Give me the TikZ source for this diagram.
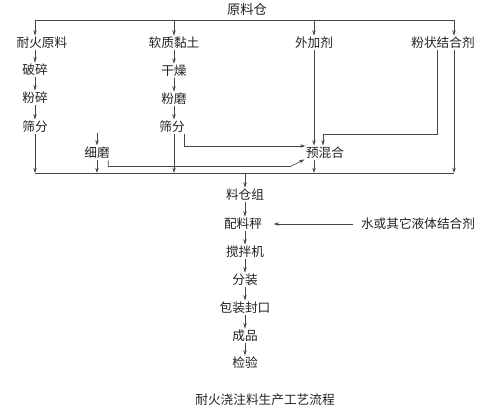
\documentclass[tikz,border=0pt]{standalone}
\usepackage{fontspec}
\setmainfont{Noto Sans CJK SC}
\usepackage{xcolor}
\usepackage{tikz}
\usetikzlibrary{arrows.meta,positioning,calc}
\definecolor{inkgray}{RGB}{34,34,34}
\definecolor{linegray}{RGB}{70,70,70}

\begin{document}
\begin{tikzpicture}[x=0.75pt, y=-0.75pt,
    stage/.style={inner sep=1pt, text=inkgray, font=\fontsize{9.5}{11}\selectfont},
    link/.style={linegray, line width=0.5pt},
    arrow/.style={-{Stealth[length=4pt,width=2.6pt]}, linegray, line width=0.5pt}]

    \useasboundingbox (0,0) rectangle (490,416);

    \node[stage, font=\fontsize{10}{12}\selectfont] (store) at (247,9) {原料仓};
    \coordinate (feedL) at (35,20);
    \coordinate (feedR) at (454,20);

    % raw material lines
    \node[stage] (refr) at (42,43) {耐火原料};
    \node[stage] (crush) at (35,70) {破碎};
    \node[stage] (pulv) at (35,98) {粉碎};
    \node[stage] (sieveA) at (35,127) {筛分};
    \node[stage] (clay) at (174,43) {软质黏土};
    \node[stage] (dry) at (174,71) {干燥};
    \node[stage] (grind) at (174,99) {粉磨};
    \node[stage] (sieveB) at (172,127) {筛分};
    \node[stage] (fine) at (97,153) {细磨};
    \node[stage] (additive) at (314,43) {外加剂};
    \node[stage] (binder) at (443,43) {粉状结合剂};
    \node[stage] (premix) at (325,153) {预混合};

    % main line
    \node[stage] (silo) at (245,195) {料仓组};
    \node[stage] (scale) at (243,224) {配料秤};
    \node[stage] (mixer) at (245,252) {搅拌机};
    \node[stage] (split) at (245,280) {分装};
    \node[stage] (seal) at (245,308) {包装封口};
    \node[stage] (product) at (245,336) {成品};
    \node[stage] (inspect) at (245,363) {检验};
    \node[stage] (liquid) at (418,224) {水或其它液体结合剂};
    \node[stage] (caption) at (265,400) {耐火浇注料生产工艺流程};

    \coordinate (collL) at (35,173);
    \coordinate (collR) at (454,173);
    \coordinate (fineIn) at (97,133);

    \draw[link] (feedL) -- (feedR);
    \draw[arrow] (feedL) -- (feedL |- refr.north);
    \draw[arrow] (feedL -| clay) -- (clay.north);
    \draw[arrow] (feedL -| additive) -- (additive.north);
    \draw[arrow] (feedR) -- (feedR |- binder.north);

    \draw[arrow] (refr.south -| crush) -- (crush);
    \draw[arrow] (crush) -- (pulv);
    \draw[arrow] (pulv) -- (sieveA);
    \draw[arrow] (clay) -- (dry);
    \draw[arrow] (dry) -- (grind);
    \draw[arrow] (grind.south -| clay) -- (sieveB.north -| clay);
    \draw[arrow] (fineIn) -- (fine);

    \draw[arrow] (additive) -- (additive |- premix.north);
    \draw[arrow] ($(binder.south)+(-6,0)$) |- ($(premix.north)+(-2,-11)$) -- ($(premix.north)+(-2,0)$);
    \draw[arrow] ($(sieveB.south east)+(-2,0)$) |- ($(premix.west)+(1,-7)$);
    \draw[arrow] ($(fine.south east)+(-3,0)$) |- ($(premix.south west)+(-14,6)$) -- ($(premix.south west)+(0,-1)$);

    % collecting line
    \draw[link] (collL) -- (collR);
    \draw[arrow] (sieveA) -- (collL);
    \draw[arrow] (fine) -- (fine |- collL);
    \draw[arrow] (sieveB.south -| clay) -- (clay |- collL);
    \draw[arrow] (premix.south -| additive) -- (additive |- collL);
    \draw[arrow] (binder.south -| collR) -- (collR);
    \draw[arrow] (collL -| silo) -- (silo);

    \draw[arrow] (silo.south -| silo) -- (scale.north -| silo);
    \foreach \a/\b in {scale/mixer, mixer/split, split/seal, seal/product, product/inspect}
        \draw[arrow] (\a.south -| silo) -- (\b.north -| silo);
    \draw[arrow] ($(liquid.west)+(-6,0)$) -- ($(scale.east)+(10,0)$);
\end{tikzpicture}
\end{document}
